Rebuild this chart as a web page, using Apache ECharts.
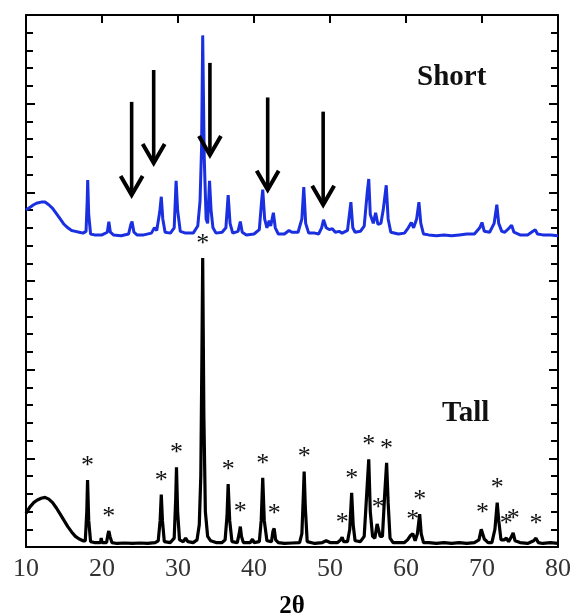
<!DOCTYPE html>
<html>
<head>
<meta charset="utf-8">
<script src="https://cdn.jsdelivr.net/npm/echarts@6/dist/echarts.min.js"></script>
<style>html,body{margin:0;padding:0;background:#fff;}#c{width:576px;height:614px;}</style>
</head>
<body>
<div id="c"></div>
<script>
// x-axis tick labels
var xTicks = [10, 20, 30, 40, 50, 60, 70, 80];

// "Tall" pattern (black), [2theta, intensity]
var tallData = [[10,0.38],[10.5,0.45],[11,0.5],[11.5,0.53],[12,0.55],[12.5,0.56],[13,0.54],[13.5,0.5],[14,0.44],[14.5,0.37],[15,0.3],[15.5,0.23],[16,0.17],[16.5,0.12],[17,0.09],[17.5,0.07],[17.8,0.07],[18.0,0.4],[18.1,0.755],[18.25,0.3],[18.5,0.06],[19,0.05],[19.8,0.05],[19.9,0.1],[20.0,0.05],[20.6,0.05],[20.8,0.15],[20.9,0.18],[21.05,0.12],[21.3,0.05],[22,0.04],[23,0.045],[24,0.04],[25,0.045],[26,0.04],[27,0.05],[27.4,0.07],[27.65,0.3],[27.8,0.59],[27.95,0.3],[28.2,0.06],[29.0,0.05],[29.5,0.1],[29.7,0.55],[29.8,0.90],[29.95,0.4],[30.2,0.08],[30.7,0.06],[31,0.1],[31.3,0.06],[32,0.05],[32.5,0.08],[32.8,0.25],[33.0,0.8],[33.15,2.2],[33.25,3.26],[33.4,1.5],[33.6,0.4],[33.9,0.12],[34.3,0.07],[35,0.05],[35.8,0.05],[36.2,0.08],[36.45,0.35],[36.6,0.71],[36.8,0.3],[37.1,0.06],[37.8,0.05],[38.05,0.15],[38.2,0.23],[38.35,0.12],[38.6,0.05],[39.5,0.05],[39.8,0.09],[40.0,0.05],[40.7,0.06],[40.95,0.3],[41.15,0.78],[41.35,0.3],[41.7,0.07],[42.3,0.06],[42.5,0.18],[42.65,0.21],[42.85,0.08],[43.2,0.05],[44,0.04],[45,0.045],[46,0.05],[46.3,0.15],[46.5,0.6],[46.6,0.85],[46.75,0.45],[47.0,0.06],[48,0.04],[49,0.05],[49.5,0.07],[50,0.05],[51,0.05],[51.4,0.08],[51.6,0.11],[51.8,0.06],[52.3,0.06],[52.6,0.2],[52.85,0.61],[53.05,0.25],[53.3,0.07],[54,0.06],[54.5,0.12],[54.9,0.7],[55.1,0.99],[55.3,0.4],[55.6,0.12],[55.9,0.1],[56.2,0.26],[56.35,0.28],[56.6,0.12],[56.9,0.12],[57.2,0.6],[57.45,0.95],[57.65,0.5],[57.9,0.1],[58.3,0.05],[59,0.05],[59.8,0.05],[60.2,0.08],[60.6,0.13],[60.9,0.15],[61.2,0.07],[61.5,0.15],[61.8,0.37],[62.0,0.15],[62.3,0.05],[63,0.05],[64,0.04],[65,0.05],[66,0.04],[67,0.05],[68,0.04],[69,0.05],[69.6,0.08],[69.9,0.2],[70.05,0.22],[70.3,0.09],[70.8,0.05],[71.3,0.05],[71.7,0.2],[72.0,0.5],[72.2,0.3],[72.5,0.08],[72.9,0.08],[73.2,0.1],[73.5,0.06],[73.9,0.12],[74.1,0.16],[74.35,0.07],[75,0.05],[76,0.04],[76.8,0.07],[77.1,0.1],[77.4,0.05],[78,0.04],[79,0.05],[80,0.04]];

// "Short" pattern (blue, offset), [2theta, intensity]
var shortData = [[10,3.80],[10.5,3.83],[11,3.86],[11.5,3.88],[12,3.89],[12.5,3.89],[13,3.86],[13.5,3.82],[14,3.76],[14.5,3.7],[15,3.64],[15.5,3.6],[16,3.57],[16.5,3.56],[17,3.55],[17.5,3.54],[17.9,3.56],[18.05,3.9],[18.12,4.14],[18.25,3.75],[18.5,3.53],[19,3.52],[20,3.52],[20.7,3.55],[20.9,3.67],[21.1,3.55],[21.5,3.52],[22.5,3.51],[23.5,3.53],[23.8,3.64],[23.95,3.67],[24.2,3.55],[24.6,3.52],[25.5,3.52],[26.5,3.54],[26.9,3.6],[27.2,3.57],[27.6,3.78],[27.8,3.95],[28.0,3.7],[28.3,3.55],[29,3.54],[29.5,3.6],[29.75,4.13],[29.95,3.8],[30.3,3.56],[31,3.54],[32,3.54],[32.6,3.62],[32.9,3.9],[33.1,4.5],[33.25,5.77],[33.45,4.4],[33.7,3.7],[33.9,3.65],[34.15,4.13],[34.35,3.8],[34.6,3.6],[35,3.54],[35.8,3.55],[36.3,3.6],[36.6,3.97],[36.85,3.65],[37.2,3.54],[37.9,3.56],[38.2,3.67],[38.45,3.55],[39,3.52],[40,3.53],[40.7,3.58],[41.0,3.9],[41.15,4.03],[41.4,3.7],[41.7,3.6],[42.0,3.68],[42.2,3.62],[42.55,3.77],[42.8,3.6],[43.2,3.53],[44,3.53],[44.6,3.57],[45,3.55],[45.8,3.55],[46.3,3.7],[46.55,4.06],[46.8,3.65],[47.2,3.54],[48,3.54],[48.5,3.53],[48.9,3.6],[49.15,3.69],[49.5,3.6],[49.9,3.58],[50.3,3.59],[50.7,3.55],[51.2,3.56],[51.6,3.54],[52.3,3.57],[52.75,3.89],[53.0,3.6],[53.3,3.55],[54,3.56],[54.5,3.62],[54.9,4.0],[55.1,4.15],[55.3,3.75],[55.7,3.65],[56.0,3.77],[56.3,3.64],[56.7,3.65],[57.0,3.8],[57.4,4.08],[57.65,3.7],[58,3.55],[59,3.53],[59.8,3.54],[60.3,3.6],[60.7,3.66],[61.0,3.6],[61.4,3.7],[61.7,3.89],[61.95,3.65],[62.3,3.53],[63,3.52],[64,3.51],[65,3.52],[66,3.51],[67,3.52],[68,3.53],[69,3.53],[69.7,3.6],[70.0,3.66],[70.3,3.56],[71,3.55],[71.6,3.65],[71.95,3.86],[72.2,3.65],[72.6,3.56],[73.0,3.55],[73.6,3.6],[73.9,3.63],[74.2,3.55],[75,3.52],[76,3.52],[76.7,3.56],[77,3.58],[77.3,3.53],[78,3.52],[79,3.52],[80,3.51]];

// asterisk markers on Tall peaks: [2theta, peak intensity]
var starData = [[18.1,0.755],[20.9,0.18],[27.8,0.59],[29.8,0.90],[33.25,3.26],[36.6,0.71],[38.2,0.23],[41.15,0.78],[42.65,0.21],[46.6,0.85],[51.6,0.11],[52.85,0.61],[55.1,0.99],[56.35,0.28],[57.45,0.95],[60.9,0.15],[61.8,0.37],[70.05,0.22],[72.0,0.5],[73.2,0.1],[74.1,0.16],[77.1,0.1]];

// arrows on Short pattern: x, top value, tip value
var arrowX = [23.9, 26.8, 34.2, 41.8, 49.1];
var arrowTop = [5.02, 5.38, 5.46, 5.07, 4.91];
var arrowTip = [3.97, 4.33, 4.42, 4.03, 3.86];

var arrowData = arrowX.map(function (x, i) { return [x, arrowTop[i], arrowTip[i]]; });

var chart = echarts.init(document.getElementById('c'), null, {renderer: 'canvas'});
var serif = 'Liberation Serif';
var option = {
  animation: false,
  backgroundColor: '#fff',
  grid: {left: 26, right: 18, top: 15, bottom: 67, show: false, containLabel: false, outerBoundsMode: 'none'},
  xAxis: [{
    type: 'value', min: 10, max: 80, interval: 10, position: 'bottom',
    axisLine: {show: true, onZero: false, lineStyle: {color: '#000', width: 2}},
    axisTick: {show: false},
    axisLabel: {color: '#333', fontFamily: serif, fontSize: 26, margin: 9,
      customValues: xTicks},
    splitLine: {show: false},
    name: '2θ', nameLocation: 'middle', nameGap: 47,
    nameTextStyle: {fontFamily: serif, fontWeight: 'bold', fontSize: 25, color: '#000'}
  }, {
    type: 'value', min: 10, max: 80, interval: 10, position: 'top',
    axisLine: {show: true, onZero: false, lineStyle: {color: '#000', width: 2}},
    axisTick: {show: true, inside: true, length: 8, lineStyle: {color: '#000', width: 2}},
    axisLabel: {show: false}, splitLine: {show: false}
  }],
  yAxis: [{
    type: 'value', min: 0, max: 6, interval: 1, position: 'left',
    axisLine: {show: true, onZero: false, lineStyle: {color: '#000', width: 2}},
    axisTick: {show: true, inside: true, length: 9, lineStyle: {color: '#000', width: 2}},
    minorTick: {show: true, splitNumber: 5, length: 7, lineStyle: {color: '#000', width: 2}},
    axisLabel: {show: false}, splitLine: {show: false}
  }, {
    type: 'value', min: 0, max: 6, interval: 1, position: 'right',
    axisLine: {show: true, onZero: false, lineStyle: {color: '#000', width: 2}},
    axisTick: {show: true, inside: true, length: 9, lineStyle: {color: '#000', width: 2}},
    minorTick: {show: true, splitNumber: 5, length: 7, lineStyle: {color: '#000', width: 2}},
    axisLabel: {show: false}, splitLine: {show: false}
  }],
  series: [{
    type: 'line', name: 'Tall', data: tallData, showSymbol: false, symbol: 'none',
    lineStyle: {color: '#000', width: 3.2}, z: 3
  }, {
    type: 'line', name: 'Short', data: shortData, showSymbol: false, symbol: 'none',
    lineStyle: {color: '#1a2fe0', width: 3}, z: 3
  }, {
    type: 'custom', name: 'stars', data: starData, z: 4,
    renderItem: function (params, api) {
      var p = api.coord([api.value(0), api.value(1)]);
      return {type: 'text', x: p[0], y: p[1] - 1,
        style: {text: '*', fontFamily: serif, fontSize: 26, fill: '#111',
          align: 'center', verticalAlign: 'bottom'}};
    }
  }, {
    type: 'custom', name: 'arrows', data: arrowData, z: 5,
    renderItem: function (params, api) {
      var t = api.coord([api.value(0), api.value(1)]);
      var b = api.coord([api.value(0), api.value(2)]);
      return {type: 'group', children: [
        {type: 'line', shape: {x1: t[0], y1: t[1], x2: b[0], y2: b[1] - 3},
          style: {stroke: '#000', lineWidth: 3.6}},
        {type: 'polyline', shape: {points: [[b[0] - 11, b[1] - 19], [b[0], b[1]], [b[0] + 11, b[1] - 19]]},
          style: {stroke: '#000', lineWidth: 4, fill: null, lineJoin: 'miter'}}
      ]};
    }
  }],
  graphic: [
    {type: 'text', left: 417, top: 63, style: {text: 'Short', fontFamily: serif, fontWeight: 'bold', fontSize: 29, fill: '#111'}},
    {type: 'text', left: 442, top: 399, style: {text: 'Tall', fontFamily: serif, fontWeight: 'bold', fontSize: 29, fill: '#111'}}
  ]
};
chart.setOption(option);
</script>
</body>
</html>
